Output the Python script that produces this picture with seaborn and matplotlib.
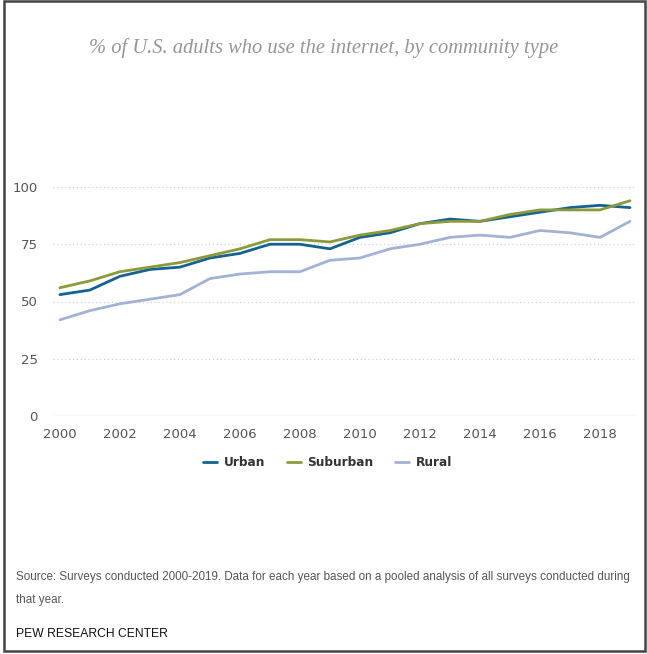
import pandas as pd
import matplotlib.pyplot as plt
import seaborn as sns
from matplotlib.patches import Rectangle

years = list(range(2000, 2020))
urban = [53, 55, 61, 64, 65, 69, 71, 75, 75, 73, 78, 80, 84, 86, 85, 87, 89, 91, 92, 91]
suburban = [56, 59, 63, 65, 67, 70, 73, 77, 77, 76, 79, 81, 84, 85, 85, 88, 90, 90, 90, 94]
rural = [42, 46, 49, 51, 53, 60, 62, 63, 63, 68, 69, 73, 75, 78, 79, 78, 81, 80, 78, 85]
series_names = ['Urban', 'Suburban', 'Rural']
colors = ['#13628f', '#8c9a3c', '#a3b2d4']

df = pd.DataFrame({'year': years, 'Urban': urban, 'Suburban': suburban, 'Rural': rural})
long = df.melt(id_vars='year', var_name='community', value_name='pct')

sns.set_style('white')
plt.rcParams['font.family'] = ['DejaVu Sans']

fig = plt.figure(figsize=(6.47, 6.54), dpi=100)
ax = fig.add_axes([53 / 647, 1 - 416 / 654, (636 - 53) / 647, (416 - 187) / 654])

sns.lineplot(data=long, x='year', y='pct', hue='community', hue_order=series_names,
             palette=colors, linewidth=2, ax=ax, legend=False)

ax.set_xlim(1999.77, 2019.2)
ax.set_ylim(0, 100)
ax.set_xticks(range(2000, 2019, 2))
ax.set_yticks([0, 25, 50, 75, 100])
ax.tick_params(axis='both', length=0, labelsize=9.5, colors='#555555')
ax.tick_params(axis='x', pad=9)
ax.tick_params(axis='y', pad=11)
for y in [25, 50, 75, 100]:
    ax.axhline(y, color='#cccccc', linestyle=(0, (1, 2.5)), linewidth=0.8, zorder=0)
ax.axhline(0, color='#d3dcea', linewidth=1, zorder=0)
for s in ax.spines.values():
    s.set_visible(False)
ax.set_xlabel('')
ax.set_ylabel('')

fig.text(0.5, 1 - 48 / 654, '% of U.S. adults who use the internet, by community type',
         ha='center', va='center', fontsize=14.8, style='italic', color='#959595',
         family='Liberation Serif')

# legend
handles = [plt.Line2D([], [], color=c, linewidth=2) for c in colors]
fig.legend(handles, series_names, loc='center', bbox_to_anchor=(0.506, 1 - 463 / 654),
           ncol=3, frameon=False, handlelength=1.2, handletextpad=0.5, columnspacing=1.8,
           prop={'weight': 'bold', 'size': 8.7}, labelcolor='#333333')

# footnote, shrunk to the width seen in the reference
src = fig.text(16 / 647, 1 - 577 / 654,
               'Source: Surveys conducted 2000-2019. Data for each year based on a pooled analysis of all surveys conducted during',
               ha='left', va='center', fontsize=9, color='#555555', family='Liberation Sans')
fig.canvas.draw()
w = src.get_window_extent().width
size = 9 * 616 / w
src.set_fontsize(size)
fig.text(16 / 647, 1 - 600 / 654, 'that year.', ha='left', va='center', fontsize=size,
         color='#555555', family='Liberation Sans')
fig.text(16 / 647, 1 - 634 / 654, 'PEW RESEARCH CENTER', ha='left', va='center', fontsize=size + 0.3,
         color='#111111', family='Liberation Sans')

fig.patches.append(Rectangle((3.5 / 647, 3 / 654), 641.5 / 647, 650 / 654, transform=fig.transFigure,
                             fill=False, edgecolor='#444444', linewidth=1.8))

fig.savefig('out.png', dpi=100)
